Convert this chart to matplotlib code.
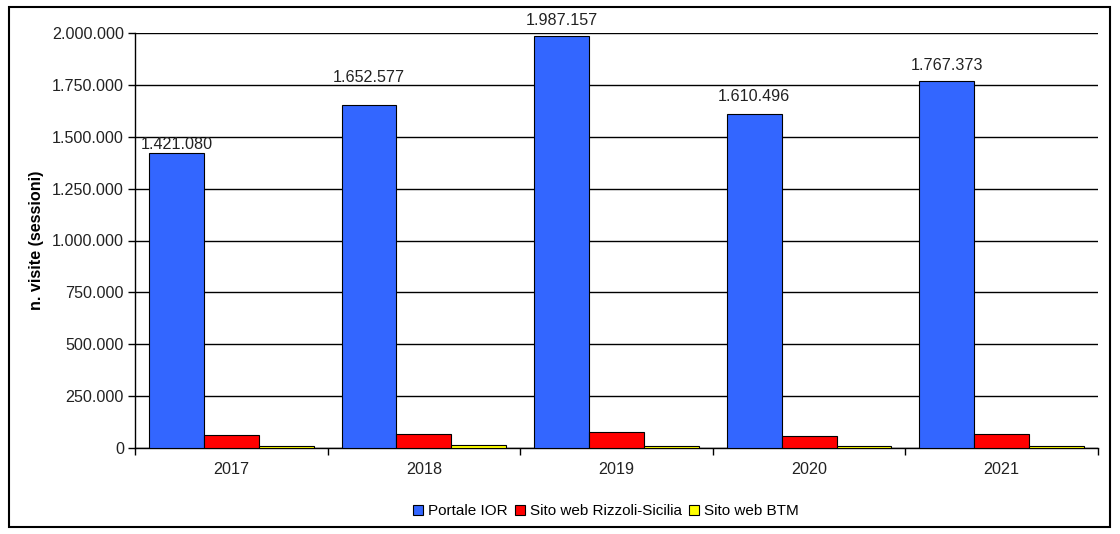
import matplotlib
matplotlib.use("Agg")
import matplotlib.pyplot as plt
import numpy as np
from matplotlib.ticker import FuncFormatter
from matplotlib.patches import Rectangle

plt.rcParams['font.family'] = ['Liberation Sans', 'DejaVu Sans']

years = ["2017", "2018", "2019", "2020", "2021"]
portale_ior = [1421080, 1652577, 1987157, 1610496, 1767373]
rizzoli_sicilia = [63000, 67000, 76000, 58000, 67000]
btm = [10000, 15000, 8000, 8000, 8000]
series_names = ["Portale IOR", "Sito web Rizzoli-Sicilia", "Sito web BTM"]
colors = ["#3366FF", "#FF0000", "#FFFF00"]
yticks = [0, 250000, 500000, 750000, 1000000, 1250000, 1500000, 1750000, 2000000]

# layout: vertical gap (pixels) between bar top and its value label centre
label_gap_px = [9, 28, 15, 17, 16]

fs = 11.6
fig = plt.figure(figsize=(11.2, 5.34), dpi=100)
fig.patches.append(Rectangle((9/1120, 1-527/534), (1110-9)/1120, (527-7)/534,
                             transform=fig.transFigure, fill=False,
                             edgecolor='black', linewidth=1.5, zorder=0))
ax = fig.add_axes([135/1120, 1-448/534, (1098-135)/1120, (448-33)/534])

x = np.arange(len(years))
w = 0.285
data = [portale_ior, rizzoli_sicilia, btm]
for i, (vals, c, name) in enumerate(zip(data, colors, series_names)):
    bars = ax.bar(x + (i - 1) * w, vals, width=w, color=c, edgecolor='black',
                  linewidth=0.8, label=name, zorder=3)
    if i == 0:
        for b, v, g in zip(bars, vals, label_gap_px):
            ax.annotate(f"{v:,}".replace(",", "."),
                        xy=(b.get_x() + b.get_width()/2, v),
                        xytext=(0, g * 0.72), textcoords='offset points',
                        ha='center', va='center', fontsize=fs,
                        color='#222222', zorder=4, annotation_clip=False)

ax.set_xlim(-0.5, len(years) - 0.5)
ax.set_ylim(0, 2000000)
ax.set_yticks(yticks)
ax.yaxis.set_major_formatter(FuncFormatter(lambda v, p: f"{int(v):,}".replace(",", ".")))
ax.set_xticks(x)
ax.set_xticklabels(years)
ax.set_xticks(np.arange(len(years) + 1) - 0.5, minor=True)
ax.tick_params(axis='x', which='major', length=0, pad=10, labelsize=fs, labelcolor='#222222')
ax.tick_params(axis='x', which='minor', length=5, width=1, direction='out')
ax.tick_params(axis='y', length=5, width=1, direction='out', labelsize=fs, labelcolor='#222222', pad=3)
ax.grid(axis='y', color='black', linewidth=1, zorder=0)
ax.set_axisbelow(True)
for s in ['top', 'right']:
    ax.spines[s].set_visible(False)
ax.spines['left'].set_linewidth(1)
ax.spines['bottom'].set_linewidth(1)

ax.set_ylabel("n. visite (sessioni)", fontsize=fs, fontweight='bold', labelpad=6)

ax.legend(loc='center', bbox_to_anchor=(0.489, -0.152), ncol=3, frameon=False,
          fontsize=11, handlelength=0.65, handleheight=0.65, handletextpad=0.3,
          columnspacing=0.5, borderaxespad=0)

fig.savefig("out.png", dpi=100)
